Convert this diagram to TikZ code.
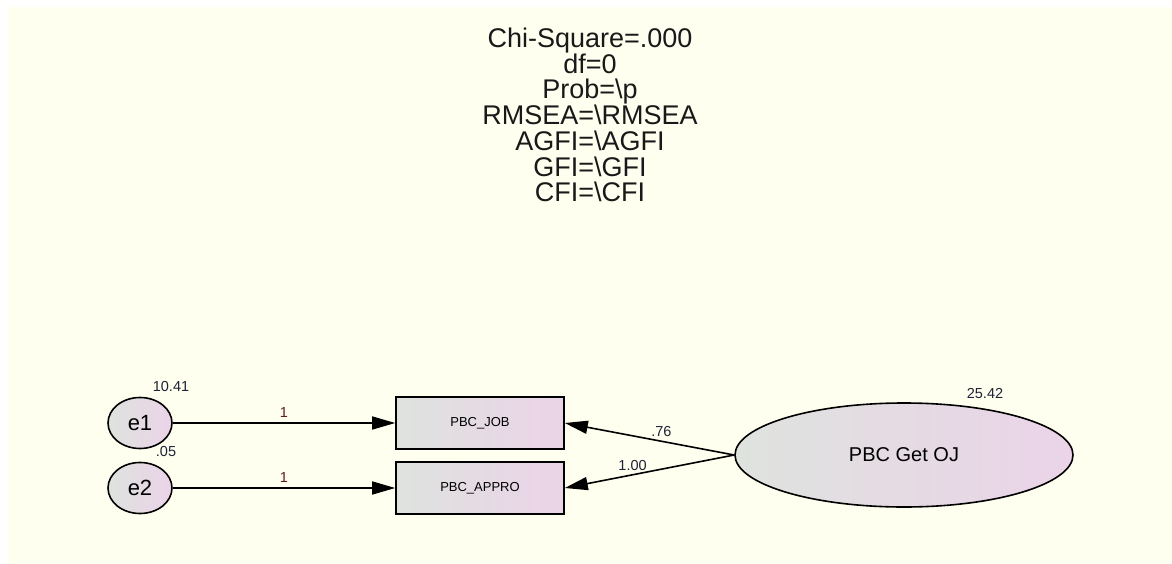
\documentclass[tikz,border=0pt]{standalone}
\usepackage{fontspec}
\setmainfont{Liberation Sans}
\usetikzlibrary{arrows.meta,shapes.geometric}

\definecolor{paper}{HTML}{FFFFF0}
\definecolor{shadeL}{HTML}{DEE3DE}
\definecolor{shadeR}{HTML}{EBD3E8}
\definecolor{numtext}{HTML}{1E2236}
\definecolor{wtext}{HTML}{5A1E1E}

\begin{document}
\begin{tikzpicture}[x=1pt, y=-1pt,
    obs/.style={rectangle, draw, line width=1.6pt, left color=shadeL, right color=shadeR,
        minimum width=168pt, minimum height=52pt, font=\fontsize{13}{15}\selectfont},
    err/.style={ellipse, draw, line width=1.6pt, left color=shadeL, right color=shadeR,
        minimum width=64pt, minimum height=51pt, inner sep=0pt, font=\fontsize{22}{24}\selectfont},
    lat/.style={ellipse, draw, line width=1.6pt, left color=shadeL, right color=shadeR,
        minimum width=338pt, minimum height=104pt, font=\fontsize{20}{24}\selectfont},
    path/.style={line width=1.6pt, -{Triangle[length=23pt,width=13pt]}},
    num/.style={text=numtext, font=\fontsize{14.5}{16}\selectfont, inner sep=1pt},
    wt/.style={text=wtext, font=\fontsize{14.5}{16}\selectfont, inner sep=1pt}]
    % background
    \useasboundingbox (0,0) rectangle (1172,564);
    \fill[paper] (8,7) rectangle (1172,564);

    % fit summary
    \node[align=center, text=black!90, font=\fontsize{27}{25.7}\selectfont] (fit) at (590,115)
        {Chi-Square=.000\\df=0\\Prob=\textbackslash p\\RMSEA=\textbackslash RMSEA\\
         AGFI=\textbackslash AGFI\\GFI=\textbackslash GFI\\CFI=\textbackslash CFI};

    % error terms and indicators
    \node[err] (e1) at (140,423) {e1};
    \node[err] (e2) at (140,488) {e2};
    \node[obs] (job) at (480,423) {PBC\_JOB};
    \node[obs] (appro) at (480,488) {PBC\_APPRO};

    % latent factor
    \node[lat] (oj) at (904,455) {PBC Get OJ};

    % variances
    \node[num] (v1) at (171,387) {10.41};
    \node[num] (v2) at (166,452) {.05};
    \node[num] (v3) at (985,394) {25.42};

    % paths
    \draw[path] (e1) -- node[wt, above=4pt] (w1) {1} (job);
    \draw[path] (e2) -- node[wt, above=4pt] (w2) {1} (appro);
    \draw[path] (oj.west) -- (job.east) node[num, pos=0.43, above=3pt] (l1) {.76};
    \draw[path] (oj.west) -- (appro.east) node[num, pos=0.6, above=2pt] (l2) {1.00};
\end{tikzpicture}
\end{document}
